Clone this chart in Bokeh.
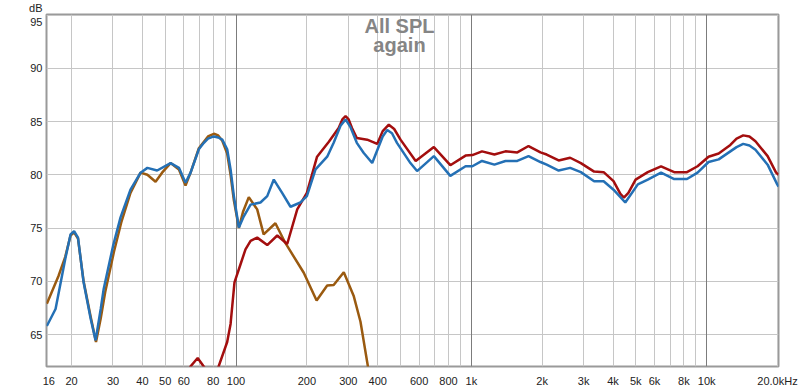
from bokeh.plotting import figure
from bokeh.models import FixedTicker, Label, Range1d, Grid
from bokeh.embed import file_html
from bokeh.resources import INLINE

# ---- data ----
freq_blue = [15.7, 17.1, 18.8, 19.8, 20.5, 21.3, 22.5, 24.1, 25.3, 26.6, 27.4, 30, 32.3, 35.6, 39.3, 42,
             46.2, 52.7, 57.2, 61, 64.1, 69.5, 73, 76, 80.5, 84, 87.4, 91.7, 94.8, 97.9, 102.8, 107.9,
             115.3, 127, 135.7, 144.7, 157, 170.4, 187.8, 200, 217.7, 244, 260, 278, 292, 306, 326,
             349, 379, 420, 439, 460, 483, 551, 588, 693, 814, 945, 1010, 1110, 1253, 1396, 1568, 1750,
             1967, 2090, 2350, 2630, 2920, 3325, 3650, 4020, 4510, 5100, 5620, 6400, 7280, 8250, 9150,
             10190, 11250, 12610, 13400, 14300, 15200, 16120, 18160, 19950, 20200]
spl_blue = [65.8, 67.4, 72.1, 74.4, 74.7, 74.1, 69.9, 66.5, 64.45, 67.4, 69.3, 73.3, 76.0, 78.6, 80.2,
            80.65, 80.4, 81.1, 80.65, 79.25, 80.2, 82.4, 83.0, 83.4, 83.6, 83.5, 83.3, 82.4, 80.5, 78.0,
            75.05, 76.1, 77.2, 77.4, 78.0, 79.55, 78.3, 77.0, 77.4, 78.0, 80.5, 81.7, 83.0, 84.6, 85.2,
            84.5, 83.0, 82.05, 81.1, 83.6, 84.2, 83.9, 83.0, 81.1, 80.35, 81.75, 79.9, 80.8, 80.8, 81.3,
            80.95, 81.3, 81.3, 81.75, 81.2, 80.95, 80.4, 80.65, 80.25, 79.4, 79.4, 78.6, 77.4, 79.1,
            79.55, 80.2, 79.6, 79.6, 80.2, 81.2, 81.45, 82.2, 82.6, 82.9, 82.75, 82.35, 80.95, 79.1, 78.9]

freq_red = [60, 64, 68.7, 72.9, 77.9, 84, 91.7, 94.8, 98.5, 104.5, 109.7, 115.3, 123, 135.7, 149.7,
            165, 182, 200, 221, 248, 273, 283, 292, 301, 311, 326, 361, 398, 420, 446, 470, 500, 580,
            693, 814, 945, 1010, 1110, 1253, 1396, 1568, 1750, 1967, 2090, 2350, 2630, 2920, 3325,
            3650, 4020, 4300, 4450, 4650, 4990, 5620, 6400, 7280, 8250, 9150, 10190, 11250, 12610,
            13400, 14300, 15200, 16120, 18160, 19730, 20200]
spl_red = [60.5, 62.0, 62.8, 62.0, 61.0, 61.9, 64.3, 66.0, 69.9, 71.6, 73.0, 73.8, 74.1, 73.4, 74.3,
           73.5, 76.75, 78.3, 81.7, 83.1, 84.4, 85.2, 85.5, 85.2, 84.4, 83.45, 83.3, 82.9, 84.1, 84.7,
           84.3, 83.3, 81.3, 82.6, 80.9, 81.8, 81.85, 82.2, 81.9, 82.2, 82.1, 82.7, 82.1, 81.9, 81.35,
           81.6, 81.1, 80.3, 80.25, 79.4, 78.2, 77.85, 78.3, 79.55, 80.25, 80.8, 80.25, 80.25, 80.8,
           81.7, 82.0, 82.8, 83.4, 83.7, 83.6, 83.15, 81.75, 80.2, 80.0]

freq_brown = [15.7, 17.6, 18.8, 19.8, 20.5, 21.3, 22.5, 24.1, 25.4, 26.6, 27.8, 30.3, 32.5, 35.6, 39.3,
              42, 45.5, 48.5, 52.7, 57.2, 61, 64.1, 69.5, 76, 80.5, 84, 87.4, 91.7, 94.8, 97.9, 102.8,
              107, 113.3, 123, 131, 147, 162, 194, 220, 244, 260, 287, 316, 338, 361, 380]
spl_brown = [67.9, 70.5, 72.3, 74.3, 74.6, 74.0, 70.0, 66.7, 64.3, 66.5, 69.0, 72.8, 75.5, 78.3, 80.2,
             80.0, 79.35, 80.2, 81.1, 80.5, 79.0, 80.2, 82.5, 83.6, 83.85, 83.7, 83.2, 82.0, 80.0,
             77.6, 75.0, 76.5, 77.9, 76.75, 74.4, 75.45, 73.6, 70.8, 68.2, 69.6, 69.65, 70.85, 68.65,
             66.2, 62.4, 59.5]

x_label_ticks = [16, 20, 30, 40, 50, 60, 80, 100, 200, 300, 400, 600, 800, 1000, 2000, 3000,
                 4000, 5000, 6000, 8000, 10000, 20000]
x_label_texts = ["16", "20", "30", "40", "50", "60", "80", "100", "200", "300", "400", "600", "800",
                 "1k", "2k", "3k", "4k", "5k", "6k", "8k", "10k", "20.0kHz"]
x_grid_ticks = [20, 30, 40, 50, 60, 70, 80, 90, 200, 300, 400, 500, 600, 700, 800, 900,
                2000, 3000, 4000, 5000, 6000, 7000, 8000, 9000, 20000]
x_decade_ticks = [100, 1000, 10000]
y_ticks = [65, 70, 75, 80, 85, 90, 95]
y_label_texts = ["65", "70", "75", "80", "85", "90", "dB\n95"]

p = figure(width=800, height=389, x_axis_type="log",
           x_range=Range1d(15.65, 20200), y_range=Range1d(62, 95.05),
           output_backend="svg", toolbar_location=None,
           min_border_left=46, min_border_right=22, min_border_top=14, min_border_bottom=0)
p.background_fill_color = "white"
p.border_fill_color = "white"
p.outline_line_color = "#9a9a9a"
p.outline_line_width = 2

lab_font = "Liberation Sans"
for ax in (p.xaxis[0], p.yaxis[0]):
    ax.axis_line_color = None
    ax.major_tick_line_color = None
    ax.minor_tick_line_color = None
    ax.major_tick_out = 0
    ax.major_tick_in = 0
    ax.minor_tick_out = 0
    ax.minor_tick_in = 0
    ax.major_label_text_font = lab_font
    ax.major_label_text_font_size = "11px"
    ax.major_label_text_color = "#222222"
p.xaxis.major_label_standoff = 8
p.yaxis.major_label_standoff = 4

p.xaxis.ticker = FixedTicker(ticks=x_label_ticks, minor_ticks=[])
p.xaxis.major_label_overrides = {t: s for t, s in zip(x_label_ticks, x_label_texts)}
p.yaxis.ticker = FixedTicker(ticks=y_ticks, minor_ticks=[])
p.yaxis.major_label_overrides = {t: s for t, s in zip(y_ticks, y_label_texts)}

p.xgrid.ticker = FixedTicker(ticks=x_grid_ticks, minor_ticks=[])
p.xgrid.grid_line_color = "#c6c6c6"
p.ygrid.grid_line_color = "#c6c6c6"
p.add_layout(Grid(dimension=0, ticker=FixedTicker(ticks=x_decade_ticks, minor_ticks=[]),
                  grid_line_color="#7c7c7c"))

p.line(freq_brown, spl_brown, line_color="#9a5a10", line_width=2.5)
p.line(freq_red, spl_red, line_color="#a30e0e", line_width=2.5)
p.line(freq_blue, spl_blue, line_color="#2470b5", line_width=2.5)

p.add_layout(Label(x=495, y=93.95, text="All SPL", text_align="center", text_baseline="middle",
                   text_font=lab_font, text_font_size="20px", text_font_style="bold",
                   text_color="#858585"))
p.add_layout(Label(x=495, y=92.15, text="again", text_align="center", text_baseline="middle",
                   text_font=lab_font, text_font_size="20px", text_font_style="bold",
                   text_color="#858585"))

open("out.html", "w").write(file_html(p, INLINE))
